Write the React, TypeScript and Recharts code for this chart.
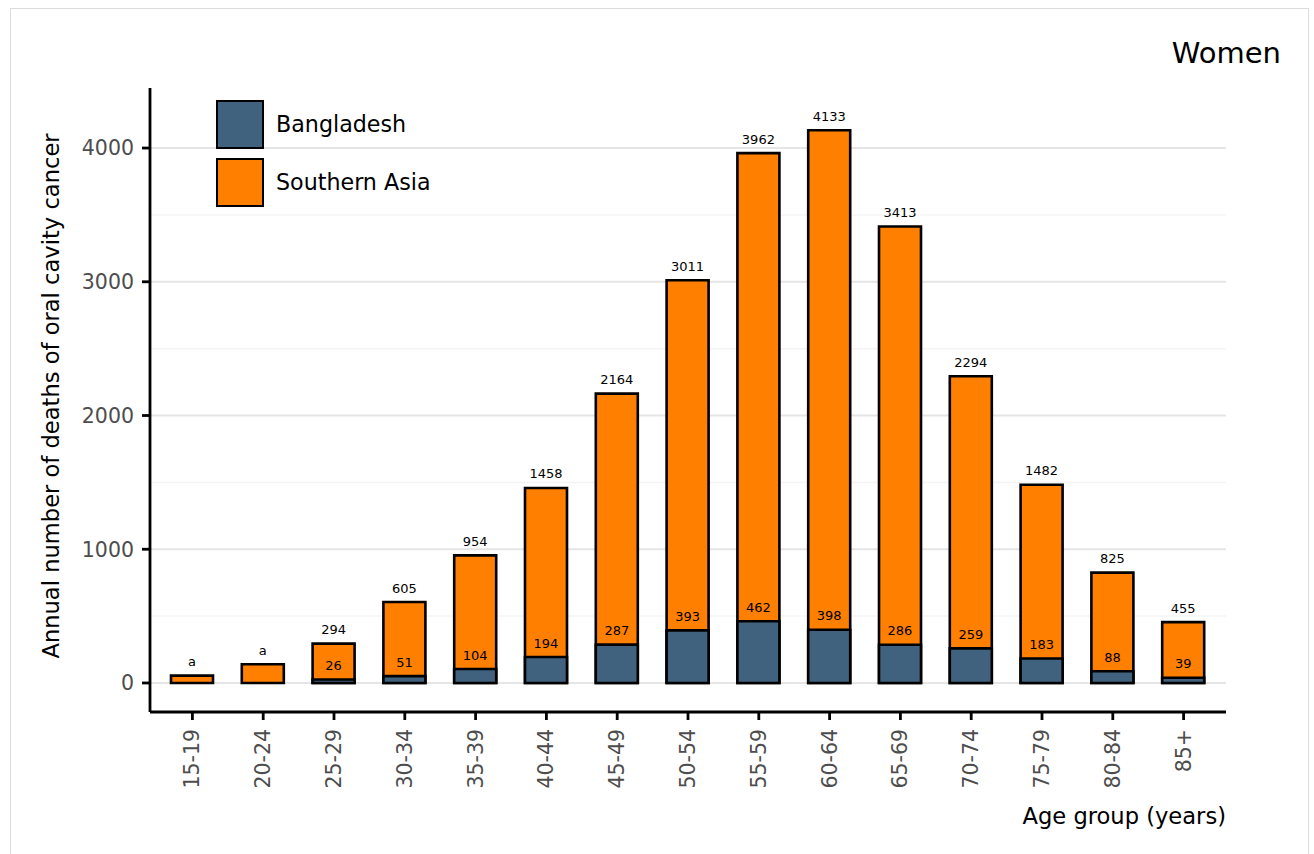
import React from 'react';
import { BarChart, Bar, XAxis, YAxis, CartesianGrid, LabelList, Label, Legend } from 'recharts';

const categories = ['15-19', '20-24', '25-29', '30-34', '35-39', '40-44', '45-49', '50-54', '55-59', '60-64', '65-69', '70-74', '75-79', '80-84', '85+'];
const southernAsia = [55, 140, 294, 605, 954, 1458, 2164, 3011, 3962, 4133, 3413, 2294, 1482, 825, 455];
const bangladesh: (number | null)[] = [null, null, 26, 51, 104, 194, 287, 393, 462, 398, 286, 259, 183, 88, 39];
const totalLabels = ['a', 'a', '294', '605', '954', '1458', '2164', '3011', '3962', '4133', '3413', '2294', '1482', '825', '455'];
const bangladeshLabels = ['', '', '26', '51', '104', '194', '287', '393', '462', '398', '286', '259', '183', '88', '39'];
const yTicks = [0, 1000, 2000, 3000, 4000];
const minorTicks = [500, 1500, 2500, 3500];
const legendItems = [
  { name: 'Bangladesh', color: '#41627e' },
  { name: 'Southern Asia', color: '#ff7f00' },
];

const FONT = '"DejaVu Sans", sans-serif';

const data = categories.map((age, i) => ({
  age,
  sa: southernAsia[i],
  bd: bangladesh[i],
  saLabel: totalLabels[i],
  bdLabel: bangladeshLabels[i],
}));

const XTick = (props: any) => {
  const { x, y, payload } = props;
  return (
    <text
      x={x}
      y={y}
      transform={`rotate(-90 ${x} ${y})`}
      textAnchor="end"
      dominantBaseline="central"
      fontSize={20.5}
      fontFamily={FONT}
      fill="#4d4d4d"
    >
      {payload.value}
    </text>
  );
};

const barLabel = (props: any) => {
  const { x, y, width, value } = props;
  if (value === '' || value == null) return null;
  return (
    <text
      x={Number(x) + Number(width) / 2}
      y={Number(y) - 14}
      textAnchor="middle"
      dominantBaseline="central"
      fontSize={13}
      fontFamily={FONT}
      fill="#000"
    >
      {value}
    </text>
  );
};

const LegendContent = () => (
  <div style={{ fontFamily: FONT }}>
    {legendItems.map((it, i) => (
      <div key={it.name} style={{ display: 'flex', alignItems: 'center', height: 50, marginBottom: i === 0 ? 8 : 0 }}>
        <div style={{ width: 44, height: 45, background: it.color, border: '2.5px solid #000' }} />
        <span style={{ marginLeft: 12, fontSize: 22.2, color: '#000', whiteSpace: 'nowrap' }}>{it.name}</span>
      </div>
    ))}
  </div>
);

export default function App() {
  return (
    <div style={{ position: 'absolute', left: 0, top: 0, width: 1314, height: 854, background: '#fff', overflow: 'hidden' }}>
      <div style={{ position: 'absolute', left: 10, top: 8, width: 1299, height: 900, border: '1.5px solid #dcdcdc', boxSizing: 'border-box' }} />
      <BarChart
        width={1314}
        height={854}
        data={data}
        margin={{ top: 88, right: 88, bottom: 82, left: 90 }}
        barGap={0}
        style={{ position: 'absolute', left: 0, top: 0 }}
      >
        <CartesianGrid vertical={false} horizontalValues={minorTicks} stroke="#f4f4f4" strokeWidth={1.5} />
        <CartesianGrid vertical={false} horizontalValues={yTicks} stroke="#e5e5e5" strokeWidth={2} />
        <XAxis
          dataKey="age"
          height={60}
          interval={0}
          padding={{ left: 7, right: 7 }}
          tick={<XTick />}
          tickSize={8}
          tickMargin={9}
          tickLine={{ stroke: '#000', strokeWidth: 2.8 }}
          axisLine={{ stroke: '#000', strokeWidth: 2.8 }}
        >
          <Label
            content={() => (
              <text x={1226} y={824} textAnchor="end" fontSize={22.6} fontFamily={FONT} fill="#000">
                Age group (years)
              </text>
            )}
          />
        </XAxis>
        <XAxis xAxisId="bd" dataKey="age" hide padding={{ left: 7, right: 7 }} />
        <YAxis
          domain={[-217, 4449]}
          ticks={yTicks}
          allowDataOverflow
          width={60}
          tickSize={8}
          tickMargin={8}
          tick={{ fill: '#4d4d4d', fontSize: 20.5, fontFamily: FONT }}
          tickLine={{ stroke: '#000', strokeWidth: 2.8 }}
          axisLine={{ stroke: '#000', strokeWidth: 2.8 }}
        >
          <Label
            content={() => (
              <g>
                <text
                  x={59}
                  y={396}
                  transform="rotate(-90 59 396)"
                  textAnchor="middle"
                  fontSize={22.6}
                  fontFamily={FONT}
                  fill="#000"
                >
                  Annual number of deaths of oral cavity cancer
                </text>
                <text x={1281} y={63} textAnchor="end" fontSize={29} fontFamily={FONT} fill="#000">
                  Women
                </text>
              </g>
            )}
          />
        </YAxis>
        <Legend
          layout="vertical"
          align="center"
          verticalAlign="middle"
          content={<LegendContent />}
          wrapperStyle={{ position: 'absolute', left: 216, top: 99, width: 300, height: 120 }}
        />
        <Bar
          dataKey="sa"
          name="Southern Asia"
          fill="#ff7f00"
          stroke="#000"
          strokeWidth={2.6}
          barSize={42}
          isAnimationActive={false}
        >
          <LabelList dataKey="saLabel" content={barLabel} />
        </Bar>
        <Bar
          xAxisId="bd"
          dataKey="bd"
          name="Bangladesh"
          fill="#41627e"
          stroke="#000"
          strokeWidth={2.6}
          barSize={42}
          isAnimationActive={false}
        >
          <LabelList dataKey="bdLabel" content={barLabel} />
        </Bar>
      </BarChart>
    </div>
  );
}
